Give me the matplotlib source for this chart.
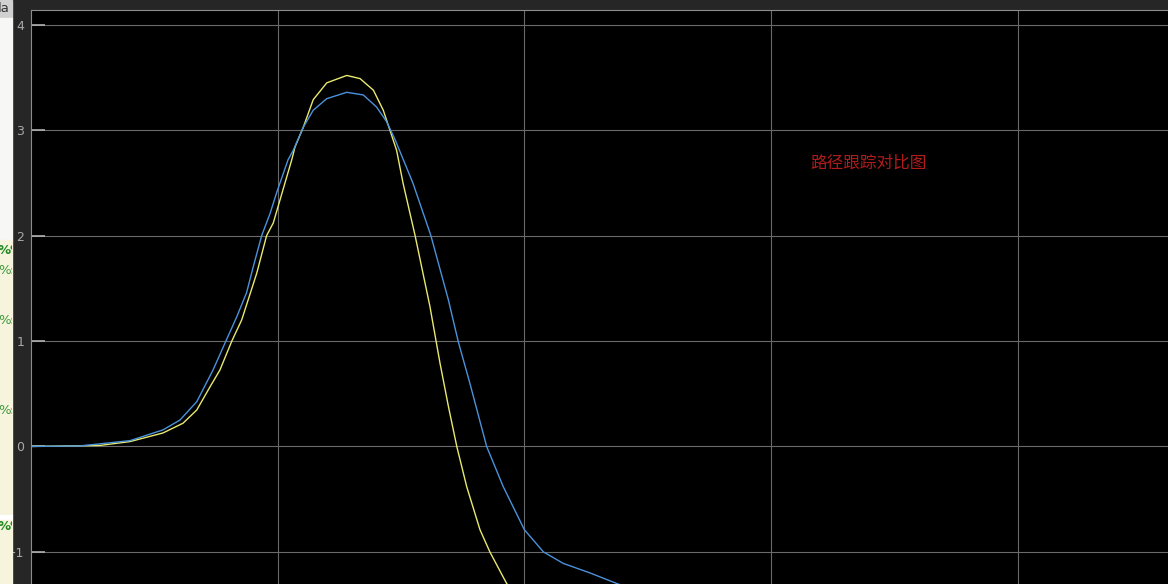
import numpy as np
import matplotlib.pyplot as plt
from matplotlib.patches import Rectangle

# path tracking comparison (Simulink scope screenshot)
# x: time in grid units, y: lateral position

# reference path (yellow)
t_ref = [0.0, 0.280, 0.401, 0.535, 0.616, 0.672, 0.726, 0.766, 0.814, 0.854,
         0.915, 0.955, 0.982, 1.057, 1.070, 1.104, 1.144, 1.199, 1.280, 1.334,
         1.388, 1.428, 1.455, 1.482, 1.508, 1.557, 1.617, 1.658, 1.692, 1.726,
         1.766, 1.820, 1.860, 1.928, 1.982]
y_ref = [0.0, 0.01, 0.046, 0.128, 0.22, 0.346, 0.567, 0.726, 1.0, 1.20,
         1.643, 2.0, 2.12, 2.72, 2.84, 3.03, 3.29, 3.45, 3.52, 3.49,
         3.38, 3.19, 3.0, 2.81, 2.5, 2.0, 1.33, 0.79, 0.38, 0.0,
         -0.38, -0.79, -1.0, -1.30, -1.46]

# tracked path (blue)
t_act = [0.0, 0.199, 0.401, 0.535, 0.604, 0.672, 0.738, 0.790, 0.834, 0.874,
         0.901, 0.935, 0.969, 0.996, 1.042, 1.063, 1.104, 1.144, 1.199, 1.280,
         1.347, 1.401, 1.442, 1.476, 1.548, 1.621, 1.692, 1.732, 1.779, 1.847,
         1.914, 2.000, 2.077, 2.158, 2.266, 2.374, 2.509]
y_act = [0.0, 0.005, 0.055, 0.157, 0.251, 0.425, 0.726, 1.0, 1.23, 1.46,
         1.706, 2.0, 2.21, 2.41, 2.72, 2.81, 3.03, 3.19, 3.30, 3.36,
         3.335, 3.22, 3.08, 2.91, 2.5, 2.0, 1.39, 0.994, 0.60, 0.0,
         -0.38, -0.79, -1.0, -1.11, -1.20, -1.30, -1.41]

y_ticks = [-1, 0, 1, 2, 3, 4]
x_ticks = [1, 2, 3, 4]
title = "路径跟踪对比图"

W, H = 1168, 584
fig = plt.figure(figsize=(W / 100, H / 100), dpi=100, facecolor='#262626')

# bit of the editor window showing at the left edge
ew = 12 / W
fig.add_artist(Rectangle((0, 566 / H), ew, 18 / H, transform=fig.transFigure, color='#d0d0d0'))
fig.add_artist(Rectangle((0, 344 / H), ew, 222 / H, transform=fig.transFigure, color='#f7f7f5'))
fig.add_artist(Rectangle((0, 69 / H), ew, 275 / H, transform=fig.transFigure, color='#f6f4dc'))
fig.add_artist(Rectangle((0, 64 / H), ew, 5 / H, transform=fig.transFigure, color='#ffffff'))
fig.add_artist(Rectangle((0, 0), ew, 64 / H, transform=fig.transFigure, color='#f6f4dc'))
clip = Rectangle((0, 0), ew, 1, transform=fig.transFigure, visible=False)
fig.add_artist(clip)
editor_txt = [("la", 575, '#333333', 'normal'), ("%%", 334, '#1f8a1f', 'bold'),
              ("%s", 314, '#3c9a3c', 'normal'), ("%s", 264, '#3c9a3c', 'normal'),
              ("%s", 174, '#3c9a3c', 'normal'), ("%%", 57, '#1f8a1f', 'bold')]
for s, yp, c, w in editor_txt:
    tt = fig.text(-2 / W, yp / H, s, color=c, fontsize=9.5, fontweight=w, va='center')
    tt.set_clip_path(clip)

ax = fig.add_axes([31 / W, 0, 1 - 31 / W, 574 / H])
ax.set_facecolor('black')

ax.plot(t_ref, y_ref, color='#e9e96e', lw=1.0)
ax.plot(t_act, y_act, color='#4a92dc', lw=1.0)

ax.set_xlim(0, 4.609)
ax.set_ylim(-1.305, 4.141)
ax.set_xticks(x_ticks)
ax.set_xticklabels([])
ax.set_yticks(y_ticks)
ax.tick_params(axis='y', direction='in', length=10, width=1.2, color='#b0b0b0',
               labelcolor='#a8a8a8', labelsize=9, pad=5)
ax.tick_params(axis='x', length=0)
ax.grid(True, color='#6a6a6a', lw=0.8)
for side in ['top', 'left']:
    ax.spines[side].set_color('#8c8c8c')
for side in ['right', 'bottom']:
    ax.spines[side].set_visible(False)

ax.text(3.158, 2.69, title, color='#b01c1c', fontsize=12,
        family=['Noto Sans CJK SC', 'DejaVu Sans'], va='center')

fig.savefig('out.png', dpi=100, facecolor=fig.get_facecolor())
